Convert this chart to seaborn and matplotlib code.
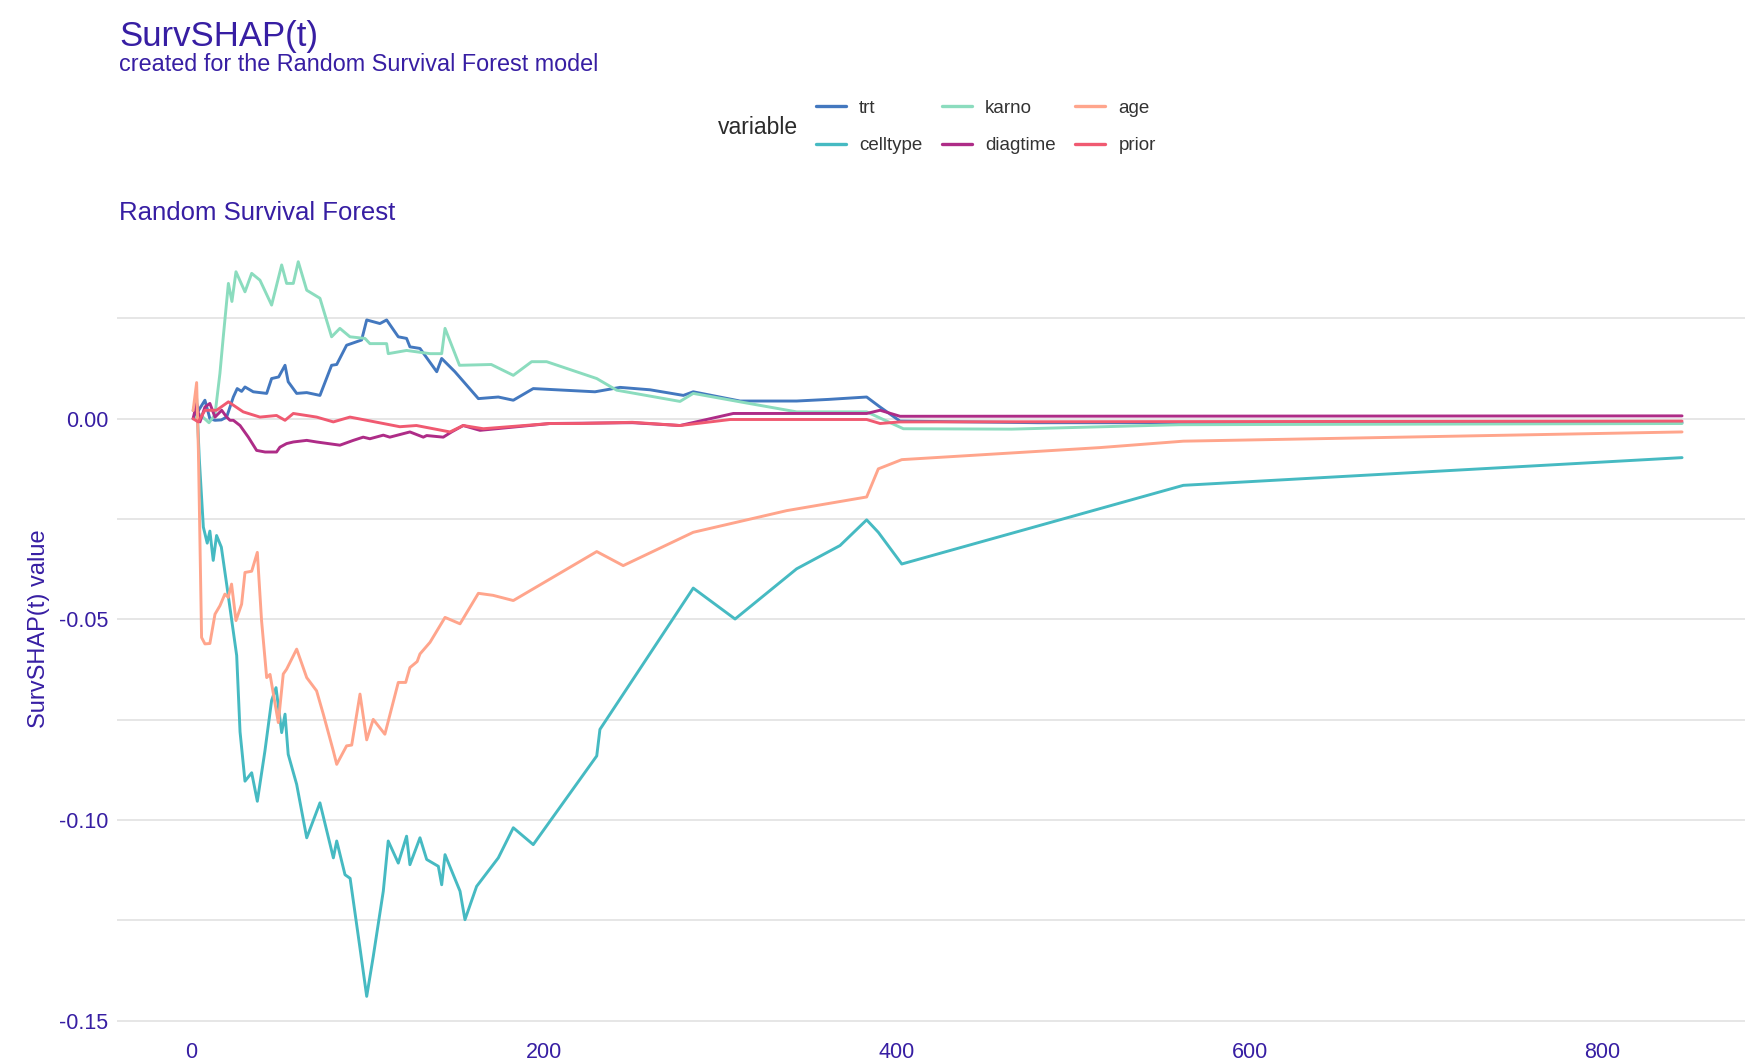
import numpy as np
import pandas as pd
import matplotlib
matplotlib.use("Agg")
import matplotlib.pyplot as plt
import seaborn as sns

# ---------------- data ----------------
variables = ["trt", "celltype", "karno", "diagtime", "age", "prior"]
colors = ["#4378bf", "#46bac2", "#8bdcbe", "#ae2c87", "#ffa58c", "#f05a71"]

trt_t = [1, 4, 7.7, 10.5, 13.4, 17, 20, 23.8, 26, 28.5, 30.4, 35.1, 42.7, 45.5, 49.5,
         53.1, 54.9, 59.7, 65.4, 72.9, 79.5, 82.4, 88, 96.5, 99.4, 106.9, 110.7, 117.3,
         122, 123.9, 129.6, 139.1, 141.9, 149.4, 162.7, 174, 182.5, 193.8, 228.8, 243,
         260, 278.9, 284.5, 311, 343.1, 361, 382.8, 390.4, 401.7, 480, 845]
trt_v = [0.0, 0.002, 0.0046, 0.0, -0.0004, -0.0003, 0.0004, 0.0054, 0.0075, 0.0068,
         0.0079, 0.0067, 0.0063, 0.0100, 0.0104, 0.0133, 0.0092, 0.0063, 0.0065, 0.0058,
         0.0133, 0.0135, 0.0183, 0.0196, 0.0246, 0.0237, 0.0246, 0.0204, 0.0200, 0.0179,
         0.0175, 0.0117, 0.0150, 0.0117, 0.0050, 0.0054, 0.0046, 0.0075, 0.0067, 0.0078,
         0.0072, 0.0058, 0.0067, 0.0044, 0.0044, 0.0048, 0.0054, 0.0029, -0.0006, -0.0010,
         -0.0010]

karno_t = [1, 5, 10, 13.4, 16.2, 18.1, 21, 23, 25.3, 30.4, 34.2, 38.9, 45.5, 51.2, 54,
           57.8, 60.6, 65.4, 72.9, 79.5, 84.2, 89.9, 98.4, 101.2, 110.7, 111.6, 122, 135.3,
           141.9, 143.8, 152, 170, 182.5, 192.9, 201.4, 229.8, 241.1, 277, 284.5, 311,
           343.1, 382.8, 403.6, 465, 560, 845]
karno_v = [0.0, 0.001, -0.001, 0.001, 0.0113, 0.0204, 0.0337, 0.0292, 0.0366, 0.0316,
           0.0362, 0.0345, 0.0283, 0.0383, 0.0337, 0.0337, 0.0391, 0.0320, 0.0300, 0.0204,
           0.0225, 0.0204, 0.0200, 0.0187, 0.0187, 0.0162, 0.0170, 0.0162, 0.0162, 0.0225,
           0.0133, 0.0135, 0.0108, 0.0142, 0.0142, 0.0100, 0.0071, 0.0043, 0.0063, 0.0042,
           0.0017, 0.0017, -0.0025, -0.0026, -0.0015, -0.0012]

celltype_t = [1, 3, 4.5, 6.8, 9, 10.5, 12.4, 14.3, 17, 20, 25.7, 27.6, 30.4, 34.2, 37.4,
              41.7, 45.5, 48, 51.2, 53.1, 54.9, 59.7, 65.4, 72.9, 80.5, 82.4, 87.1, 90,
              95.6, 99.4, 103.1, 108.8, 111.6, 117.3, 122, 123.9, 129.6, 133.4, 140, 141.9,
              143.8, 152.3, 155.1, 161.7, 174, 182.5, 193.8, 229.8, 231.6, 284.5, 308.2,
              343.1, 367.7, 382.8, 389.4, 402.7, 562.3, 845]
celltype_v = [0.002, 0.005, -0.010, -0.027, -0.031, -0.028, -0.0353, -0.0291, -0.032,
              -0.0412, -0.0590, -0.0780, -0.0903, -0.0882, -0.0953, -0.0828, -0.0702,
              -0.0670, -0.0782, -0.0736, -0.0836, -0.0911, -0.1044, -0.0957, -0.1094,
              -0.1052, -0.1136, -0.1145, -0.1319, -0.1439, -0.1340, -0.1177, -0.1052,
              -0.1107, -0.1040, -0.1111, -0.1044, -0.1098, -0.1115, -0.1161, -0.1086,
              -0.1177, -0.1248, -0.1165, -0.1094, -0.1019, -0.1061, -0.0840, -0.0774,
              -0.0422, -0.0499, -0.0374, -0.0316, -0.0252, -0.0283, -0.0362, -0.0166,
              -0.0097]

diagtime_t = [1, 3, 4.9, 7.7, 10.5, 13.4, 17.2, 20, 21.9, 23.8, 27.6, 32.3, 37, 41.8,
              48.3, 50.2, 54, 57.8, 65.4, 71, 84.2, 91.8, 97.4, 101.2, 108.8, 112.5, 123.9,
              131.5, 133.4, 142.8, 147.5, 154.1, 163.6, 203.3, 250, 277, 307.2, 382.8,
              390.4, 401.7, 845]
diagtime_v = [0.0, 0.0038, -0.0008, 0.0029, 0.0038, 0.0004, 0.0021, 0.0004, -0.0004,
              -0.0004, -0.0017, -0.0046, -0.0079, -0.0083, -0.0083, -0.0071, -0.0062,
              -0.0058, -0.0054, -0.0058, -0.0066, -0.0054, -0.0046, -0.0050, -0.0041,
              -0.0046, -0.0033, -0.0046, -0.0042, -0.0046, -0.0033, -0.0017, -0.0029,
              -0.0012, -0.0010, -0.0017, 0.0013, 0.0013, 0.0021, 0.0006, 0.0007]

age_t = [1, 3, 4, 5.8, 7.7, 10.5, 13.4, 16.2, 19, 20.9, 22.8, 25.3, 28.5, 30.4, 34.2,
         37.4, 39.8, 42.7, 44.6, 49.3, 52.1, 54, 59.7, 65.4, 71, 74.8, 80.5, 82.4, 88,
         90.9, 95.6, 99.4, 103.1, 109.7, 117.3, 121.5, 123.9, 128, 129.6, 135.3, 143.8,
         152.3, 162.7, 171, 182.5, 229.8, 244.8, 284.5, 337.5, 382.8, 389.4, 402.7, 515,
         562.3, 673.8, 845]
age_v = [0.002, 0.009, -0.008, -0.0545, -0.0561, -0.0560, -0.0487, -0.0466, -0.0437,
         -0.0445, -0.0412, -0.0503, -0.0462, -0.0383, -0.0380, -0.0333, -0.0503, -0.0645,
         -0.0637, -0.0757, -0.0636, -0.0624, -0.0574, -0.0645, -0.0678, -0.0736, -0.0828,
         -0.0861, -0.0815, -0.0813, -0.0686, -0.0800, -0.0749, -0.0786, -0.0657, -0.0657,
         -0.0620, -0.0605, -0.0586, -0.0557, -0.0495, -0.0511, -0.0435, -0.0440, -0.0453,
         -0.0331, -0.0366, -0.0283, -0.0229, -0.0195, -0.0125, -0.0102, -0.0072, -0.0056,
         -0.0047, -0.0033]

prior_t = [1, 3.9, 7.7, 14.3, 21, 29.4, 38.9, 48.3, 53.1, 57.8, 71, 80.5, 89.9, 99.4,
           108.8, 118.2, 127.6, 137.1, 146.6, 154.1, 165.5, 203.3, 220.3, 250, 277, 305.5,
           382.8, 390.4, 401.7, 845]
prior_v = [0.0, -0.0008, 0.0021, 0.0021, 0.0042, 0.0017, 0.0004, 0.0008, -0.0004, 0.0013,
           0.0004, -0.0008, 0.0004, -0.0004, -0.0012, -0.0020, -0.0017, -0.0025, -0.0033,
           -0.0017, -0.0025, -0.0012, -0.0012, -0.0009, -0.0017, -0.0002, -0.0002, -0.0012,
           -0.0008, -0.0006]

x_ticks = [0, 200, 400, 600, 800]
x_tick_labels = ["0", "200", "400", "600", "800"]
y_ticks = [-0.15, -0.10, -0.05, 0.00]
y_tick_labels = ["-0.15", "-0.10", "-0.05", "0.00"]
y_minor = [-0.125, -0.075, -0.025, 0.025]

title = "SurvSHAP(t)"
subtitle = "created for the Random Survival Forest model"
panel_title = "Random Survival Forest"
y_label = "SurvSHAP(t) value"
legend_title = "variable"

series = {
    "trt": (trt_t, trt_v),
    "celltype": (celltype_t, celltype_v),
    "karno": (karno_t, karno_v),
    "diagtime": (diagtime_t, diagtime_v),
    "age": (age_t, age_v),
    "prior": (prior_t, prior_v),
}
df = pd.concat(
    [pd.DataFrame({"time": t, "value": v, "variable": name}) for name, (t, v) in series.items()],
    ignore_index=True,
)

# ---------------- styling ----------------
sns.set_theme(style="white")
plt.rcParams["font.family"] = ["Liberation Sans", "DejaVu Sans"]
plt.rcParams["axes.unicode_minus"] = False

TXT = "#371ea3"
W, H = 1745, 1062
fig = plt.figure(figsize=(W / 100, H / 100), dpi=100)
fig.patch.set_facecolor("white")

xlim = (-42.2, 887.2)
ylim = (-0.1536, 0.048)
left_px, right_px = 116.9, 1756.5
top_px, bottom_px = 226.0, 1035.3
ax = fig.add_axes([left_px / W, 1 - bottom_px / H, (right_px - left_px) / W, (bottom_px - top_px) / H])

sns.lineplot(data=df, x="time", y="value", hue="variable", hue_order=variables,
             palette=dict(zip(variables, colors)), estimator=None, sort=False,
             linewidth=2.1, ax=ax)

ax.set_xlim(*xlim)
ax.set_ylim(*ylim)
ax.set_xticks(x_ticks)
ax.set_xticklabels(x_tick_labels)
ax.set_yticks(y_ticks)
ax.set_yticklabels(y_tick_labels)
ax.set_yticks(y_minor, minor=True)
ax.grid(False)
ax.grid(axis="y", which="both", color="#e4e4e4", linewidth=1.3)
ax.set_axisbelow(True)
for s in ax.spines.values():
    s.set_visible(False)
ax.tick_params(axis="both", which="both", length=0, labelsize=15.5, labelcolor=TXT)
ax.tick_params(axis="y", pad=6)
ax.tick_params(axis="x", pad=5)
ax.set_xlabel("")
ax.set_ylabel("")

# legend (title placed to the left, as in ggplot)
handles, labels = ax.get_legend_handles_labels()
ax.get_legend().remove()
for h in handles:
    h.set_linewidth(2.4)
fig.legend(handles, labels, ncol=3, loc="upper left",
           bbox_to_anchor=(815.7 / W, 1 - 99.5 / H), frameon=False,
           fontsize=13.5, handlelength=1.6, handletextpad=0.7,
           columnspacing=1.05, labelspacing=1.1, borderpad=0, borderaxespad=0,
           labelcolor="#333333")
fig.text(758 / W, 1 - 127 / H, legend_title, ha="center", va="center",
         fontsize=16.5, color="#2b2b2b")

# titles
fig.text(119 / W, 1 - 36.7 / H, title, ha="left", va="center", fontsize=25, color=TXT)
fig.text(119 / W, 1 - 64.5 / H, subtitle, ha="left", va="center", fontsize=16.8, color=TXT)
fig.text(119 / W, 1 - 213.5 / H, panel_title, ha="left", va="center", fontsize=18.5, color=TXT)
fig.text(39 / W, 1 - 629 / H, y_label, ha="center", va="center", rotation=90,
         fontsize=17, color=TXT)

fig.savefig("out.png", dpi=100, facecolor="white")
